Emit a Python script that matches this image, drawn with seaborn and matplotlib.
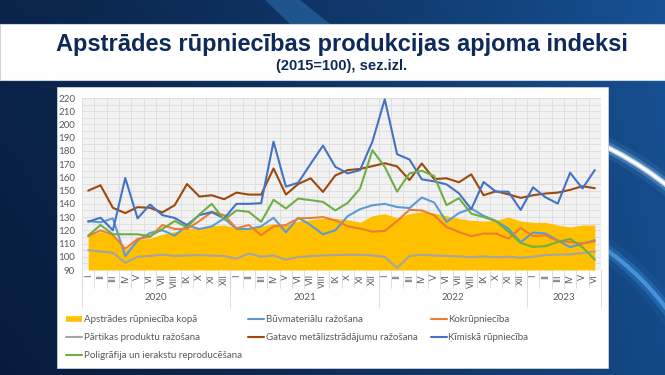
import numpy as np
import pandas as pd
import matplotlib
matplotlib.use('Agg')
import matplotlib.pyplot as plt
import matplotlib.transforms as mtransforms
from matplotlib.patches import Rectangle, Arc
from matplotlib.lines import Line2D
import seaborn as sns

# ---------------- data ----------------
roman = ['I', 'II', 'III', 'IV', 'V', 'VI', 'VII', 'VIII', 'IX', 'X', 'XI', 'XII']
month_labels = roman * 3 + roman[:6]
years = ['2020', '2021', '2022', '2023']
year_counts = [12, 12, 12, 6]

series_names = ['Apstrādes rūpniecība kopā', 'Būvmateriālu ražošana', 'Kokrūpniecība',
                'Pārtikas produktu ražošana', 'Gatavo metālizstrādājumu ražošana',
                'Ķīmiskā rūpniecība', 'Poligrāfija un ierakstu reproducēšana']

total = [116, 119, 116, 105, 113, 114, 117, 119, 121, 122, 123.5, 124,
         122, 122, 123, 125, 124, 127, 128, 129, 129, 128, 126, 131,
         132.5, 129.5, 132.5, 134, 133, 131, 129, 127.5, 127, 127.5, 130, 127,
         126, 126, 124, 122.5, 124, 124]
buvmat = [127, 126, 129, 100.5, 112.4, 118, 120, 116, 123.5, 121, 123, 129,
          121, 121, 123, 129.5, 118.5, 129.5, 124, 117, 120, 130.7, 136, 138.9,
          140, 137.6, 136.8, 144.8, 141, 126.4, 133, 136.4, 131, 127, 121.4, 111,
          118.3, 117.6, 112.4, 107.2, 110, 112.5]
koks = [115.5, 120, 116.5, 106, 113.5, 115, 124, 121, 121, 127, 133.8, 131.5,
        121.5, 124, 116.3, 123, 124, 129, 129.3, 130, 127.5, 123, 121.3, 119,
        119.5, 127, 135.5, 135, 131.3, 122.5, 118.7, 115.6, 117.5, 117.5, 113.7, 121.7,
        115.7, 116.2, 111.7, 111.2, 110, 111.7]
partikas = [105, 104, 103, 95.5, 100, 100.6, 101.6, 100.6, 101, 101.3, 100.8, 100.6,
            98.5, 102.5, 100, 101, 97.8, 99.8, 100.5, 101, 101.3, 101.5, 101.5, 101,
            100, 91.5, 100.6, 101.5, 101, 100.6, 100.3, 99.7, 100.3, 99.6, 100, 99.3,
            100, 101.3, 101.6, 101.8, 102.8, 104]
gatavo = [150, 154, 137, 133, 137.5, 137, 133.5, 139, 155, 145.5, 146.5, 143.5,
          148.5, 147, 147, 166.7, 147, 155, 159.3, 149, 161.5, 165.5, 166.4, 168.5,
          170.7, 168.3, 158, 170.5, 158.7, 159.3, 156.3, 162.3, 146.5, 149.5, 147.2, 144.5,
          146.5, 147.8, 148.5, 150.6, 153.3, 151.8]
kimiska = [126.5, 129.5, 120, 159.5, 129, 139.5, 131.5, 129.3, 124, 131.5, 133.8, 129,
           140, 140, 140.5, 187, 153, 156, 170.2, 184, 168, 163, 165.5, 187,
           219, 177.5, 173.5, 158.5, 157, 154.7, 148, 136, 156.5, 149.2, 149.2, 135.4,
           152.5, 145, 140.2, 163.5, 151.6, 165.6]
poligrafija = [116, 124, 117, 117, 117, 115.5, 121, 127, 122.3, 132, 140, 128,
               135, 134, 126.4, 143, 136.5, 144, 142.8, 141.5, 135, 140.7, 151.5, 180.5,
               168, 149.2, 163, 165, 161, 139, 144.3, 132.6, 130, 127, 119, 110.5,
               107.5, 108, 111.2, 113.5, 107.2, 97.8]

colors = ['#FFC000', '#5B9BD5', '#ED7D31', '#A5A5A5', '#9E480E', '#4472C4', '#70AD47']

idx = list(range(len(month_labels)))
line_series = [buvmat, koks, partikas, gatavo, kimiska, poligrafija]
df = pd.concat([pd.DataFrame({'idx': idx, 'value': v, 'series': n})
                for n, v in zip(series_names[1:], line_series)], ignore_index=True)

# ---------------- style ----------------
sns.set_theme(style='white')
plt.rcParams['font.family'] = ['Lato', 'DejaVu Sans']

W, H = 665, 375
fig = plt.figure(figsize=(W / 100, H / 100), dpi=100)

# background slide
bg = fig.add_axes([0, 0, 1, 1], zorder=-10)
xx = np.linspace(0, 1, W)
yy = np.linspace(0, 1, H)
X, Y = np.meshgrid(xx, yy)
c0 = np.array([0.03, 0.11, 0.24])
c1 = np.array([0.09, 0.32, 0.58])
t = np.clip(0.15 + 0.85 * X ** 1.3 - 0.15 * Y, 0, 1)
img = c0 + (c1 - c0) * t[..., None]
bg.imshow(img, extent=[0, W, H, 0], aspect='auto')
bg.set_xlim(0, W)
bg.set_ylim(H, 0)
bg.axis('off')
# diagonal highlight on top band
bg.fill([265, 300, 330, 290], [0, 0, 24, 24], color='#2c6aa8', alpha=0.6, lw=0)
# glowing arcs on the right
for lw, a, c in [(14, 0.10, '#7cc4ff'), (8, 0.25, '#a8d8ff'), (4, 0.7, '#e6f4ff'), (2, 1.0, 'white')]:
    bg.add_patch(Arc((450, 460), 2 * 350, 2 * 350, theta1=270, theta2=360, lw=lw, color=c, alpha=a))
for lw, a, c in [(16, 0.10, '#3a8ee6'), (8, 0.25, '#4aa0f0'), (3, 0.6, '#5fb0ff')]:
    bg.add_patch(Arc((450, 470), 2 * 270, 2 * 270, theta1=270, theta2=360, lw=lw, color=c, alpha=a))
# white title band
bg.add_patch(Rectangle((0, 24), W, 56, facecolor='white', edgecolor='#c8d3e0', lw=0.8))
# chart box
bg.add_patch(Rectangle((57, 87), 551, 281, facecolor='white', edgecolor='#d0d0d0', lw=0.6))

fig.text(342 / W, 1 - 44 / H, 'Apstrādes rūpniecības produkcijas apjoma indeksi',
         ha='center', va='center', fontsize=17, fontweight='bold', color='#0E2A5A',
         family=['Liberation Sans', 'DejaVu Sans'])
fig.text(342 / W, 1 - 66 / H, '(2015=100), sez.izl.', ha='center', va='center',
         fontsize=10.5, fontweight='bold', color='#0E2A5A', family=['Liberation Sans', 'DejaVu Sans'])

# ---------------- plot ----------------
ax = fig.add_axes([82 / W, 1 - 270 / H, 519 / W, 172 / H])
ax.set_facecolor('#F2F2F2')
ax.fill_between(idx, 90, total, color=colors[0], lw=0, zorder=2)
sns.lineplot(data=df, x='idx', y='value', hue='series', hue_order=series_names[1:],
             palette=colors[1:], linewidth=1.5, legend=False, ax=ax, zorder=3)

ax.set_xlim(-0.5, len(idx) - 0.5)
ax.set_ylim(90, 220)
ax.set_yticks(range(90, 221, 10))
ax.set_yticks(np.arange(95, 220, 5), minor=True)
ax.set_xticks(idx)
ax.set_xticklabels(month_labels, rotation=90, fontsize=6.5, color='#595959')
ax.set_xticks(np.arange(-0.5, len(idx), 1), minor=True)
ax.tick_params(axis='y', labelsize=7, labelcolor='#595959', length=0, pad=5)
ax.tick_params(axis='x', which='both', length=0, pad=3)
ax.tick_params(axis='y', which='minor', length=0)
ax.grid(True, which='both', axis='y', color='#DCDCDC', lw=0.6)
ax.grid(True, which='minor', axis='x', color='#DCDCDC', lw=0.6)
ax.grid(False, which='major', axis='x')
ax.set_xlabel('')
ax.set_ylabel('')
for s in ax.spines.values():
    s.set_visible(False)

trans = mtransforms.blended_transform_factory(ax.transData, ax.transAxes)
for k in range(len(idx) + 1):
    ax.plot([k - 0.5, k - 0.5], [0, -18 / 172], transform=trans, clip_on=False,
            color='#D9D9D9', lw=0.6)
start = 0
for yname, cnt in zip(years, year_counts):
    ax.plot([start - 0.5, start - 0.5], [0, -37 / 172], transform=trans, clip_on=False,
            color='#D9D9D9', lw=0.6)
    ax.text(start + (cnt - 1) / 2, -28 / 172, yname, transform=trans, ha='center',
            va='center', fontsize=7, color='#595959')
    start += cnt
ax.plot([start - 0.5, start - 0.5], [0, -37 / 172], transform=trans, clip_on=False,
        color='#D9D9D9', lw=0.6)

# ---------------- legend (3 columns, row-wise like Excel) ----------------
handles = [Line2D([], [], color=colors[0], lw=4, solid_capstyle='butt')] + \
          [Line2D([], [], color=c, lw=1.5) for c in colors[1:]]
cols = [[0, 3, 6], [1, 4], [2, 5]]
col_x = [66, 248, 431]
for cx, members in zip(col_x, cols):
    fig.legend([handles[i] for i in members], [series_names[i] for i in members],
               loc='upper left', bbox_to_anchor=(cx / W, 1 - 315 / H), frameon=False,
               fontsize=7, labelcolor='#595959', handlelength=1.6, handletextpad=0.2,
               labelspacing=0.95, borderpad=0, borderaxespad=0)

fig.savefig('out.png', dpi=100)
